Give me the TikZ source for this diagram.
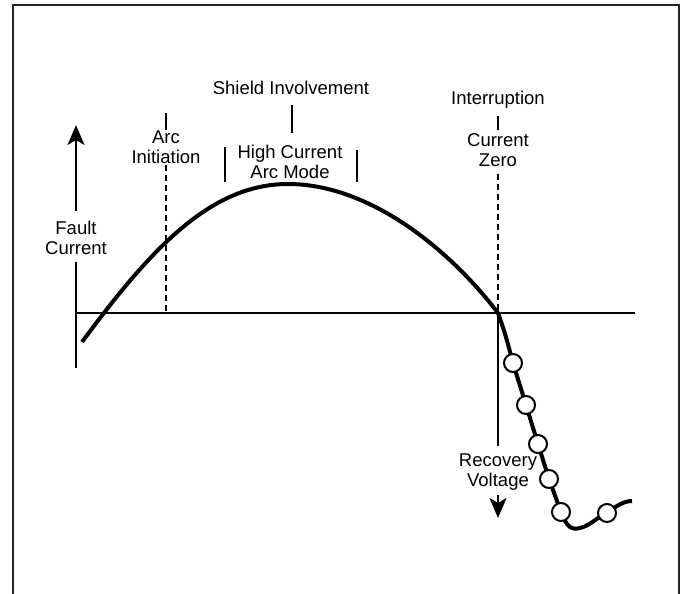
\documentclass[tikz,border=0pt]{standalone}
\usepackage{fontspec}
\setmainfont{Liberation Sans}
\usetikzlibrary{arrows.meta}
\begin{document}
\begin{tikzpicture}[x=1pt,y=-1pt,
  lbl/.style = {align=center, font=\fontsize{18.5}{20}\selectfont, inner sep=1pt},
  axis/.style = {line width=2.2pt},
  tick/.style = {line width=2.8pt},
  guide/.style = {line width=2.2pt, dash pattern=on 6pt off 4pt},
  wave/.style = {line width=4pt, line join=round},
  ring/.style = {draw, circle, fill=white, line width=2pt, minimum width=17pt, minimum height=18pt, inner sep=0pt},
  arr/.style = {-{Stealth[length=20pt,width=17pt,inset=5pt]}}]
\useasboundingbox (0,0) rectangle (681,594);
\draw[line width=2pt, black!85] (13,594) -- (13,5) -- (679,5) -- (679,594);
% axes
\coordinate (o) at (76,313);
\coordinate (xend) at (635,313);
\coordinate (zc) at (498,313);
\node[lbl] (fault) at (76,237.5) {Fault\\Current};
\draw[axis,arr] ([yshift=9pt]fault.north) -- (76,125);
\draw[axis] ([yshift=-7pt]fault.south) -- (76,368);
\draw[axis] (o) -- (xend);
% labels
\node[lbl] (shield) at (291,88) {Shield Involvement};
\node[lbl] (arc) at (166,147.5) {Arc\\Initiation};
\node[lbl] (hc) at (290,162) {High Current\\Arc Mode};
\node[lbl] (intr) at (498,100) {Interruption};
\node[lbl] (zero) at (498,150) {Current\\Zero};
\node[lbl] (rec) at (498,472.5) {Recovery\\Voltage};
% marks
\draw[tick] (292,105) -- (292,133);
\draw[tick] (arc.north) -- ++(0,-17);
\draw[guide] (arc.south) -- (arc.south |- o);
\draw[tick] (225,147) -- (225,182);
\draw[tick] (357,150) -- (357,182);
\draw[tick, shorten <=6pt, shorten >=2pt] (intr) -- (zero);
\draw[guide, shorten <=6pt] (zero.south) -- (zc);
\draw[axis, shorten >=7pt] (zc) -- (rec.north);
\draw[axis,arr, shorten <=3pt] (rec.south) -- (498,518);
% current and voltage
\draw[wave] (82,342) .. controls (150,250) and (210,184) .. (288,184)
  .. controls (370,184) and (450,250) .. (zc)
  .. controls (505,333) .. (513,363) -- (526,405) -- (538,444) -- (549,479) -- (561,512)
  .. controls (567,528) and (572,530) .. (580,528)
  .. controls (592,525) and (598,516) .. (607,513)
  .. controls (616,506) and (624,501) .. (632,501);
\foreach \p [count=\i] in {(513,363),(526,405),(538,444),(549,479),(561,512),(607,513)}
  \node[ring] (v\i) at \p {};
\end{tikzpicture}
\end{document}
